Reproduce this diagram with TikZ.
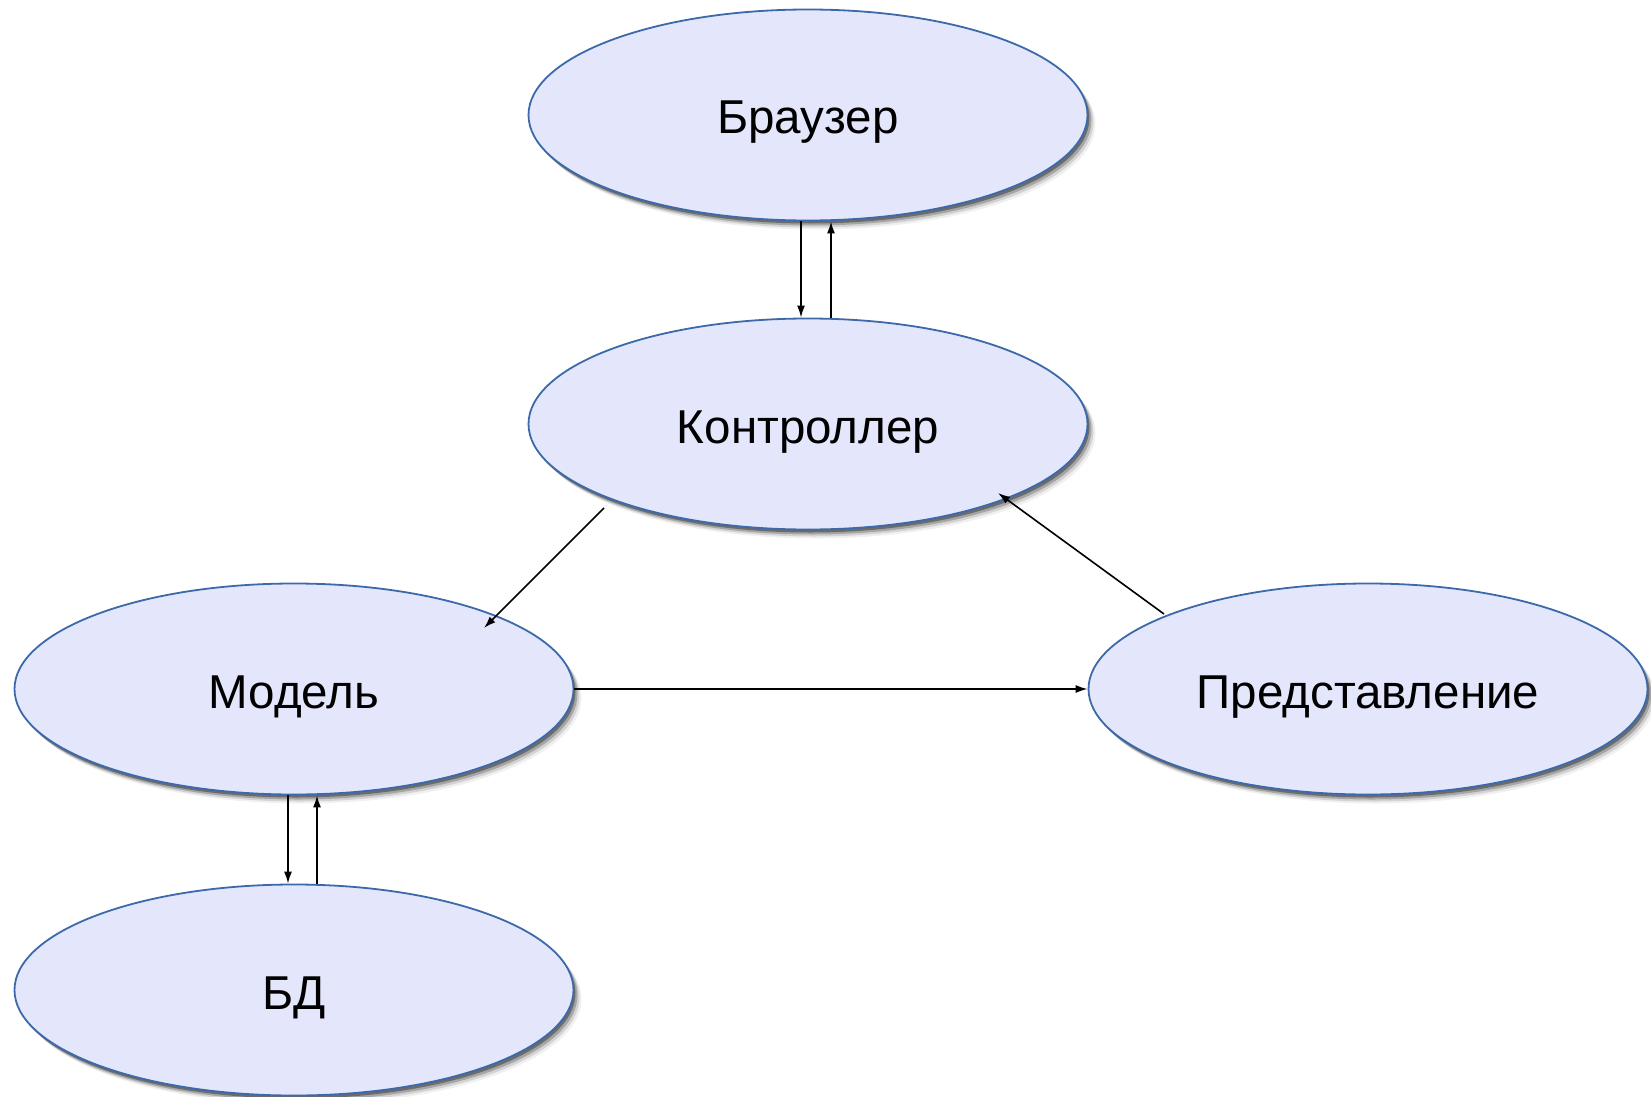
\documentclass[tikz,border=0pt]{standalone}
\usepackage{fontspec}
\setmainfont{Liberation Sans}
\usetikzlibrary{shapes.geometric,shadows,arrows.meta,calc}
\definecolor{efill}{HTML}{E4E6FB}
\definecolor{eline}{HTML}{3B69A9}
\begin{document}
\begin{tikzpicture}[x=1pt,y=-1pt,
  ell/.style={ellipse, draw=eline, line width=1.8pt, fill=efill,
    minimum width=559pt, minimum height=211pt, inner sep=0pt,
    font=\fontsize{47.5}{56}\selectfont, text height=38pt, text depth=0pt,
    drop shadow={shadow xshift=2pt, shadow yshift=-3pt, opacity=0.35, fill=black},
    drop shadow={shadow xshift=4pt, shadow yshift=-5pt, opacity=0.22, fill=black},
    drop shadow={shadow xshift=6pt, shadow yshift=-7pt, opacity=0.12, fill=black},
    drop shadow={shadow xshift=8pt, shadow yshift=-9pt, opacity=0.06, fill=black}},
  conn/.style={line width=1.6pt, -{Latex[length=12pt,width=8pt]}}]
\useasboundingbox (0,0) rectangle (1651,1097);
\node[ell] (b) at (808,115) {Браузер};
\node[ell] (c) at (808,424) {Контроллер};
\node[ell] (m) at (294,689) {Модель};
\node[ell] (p) at (1368,689) {Представление};
\node[ell] (d) at (294,990) {БД};
% Browser <-> Controller
\draw[conn] ([xshift=-7pt]b.south) -- ([xshift=-7pt]c.north);
\draw[conn] ([xshift=23pt]c.north) -- ([xshift=23pt]b.south);
% Model <-> DB
\draw[conn] ([xshift=-6pt]m.south) -- ([xshift=-6pt]d.north);
\draw[conn] ([xshift=23pt]d.north) -- ([xshift=23pt]m.south);
% Controller -> Model
\draw[conn] ($(c.center)+(-204,84)$) -- ($(m.center)+(190,-61)$);
% View -> Controller
\draw[conn] ($(p.center)+(-204,-75)$) -- ($(c.center)+(190,69)$);
% Model -> View
\draw[conn] (m.east) -- (p.west);
\end{tikzpicture}
\end{document}
